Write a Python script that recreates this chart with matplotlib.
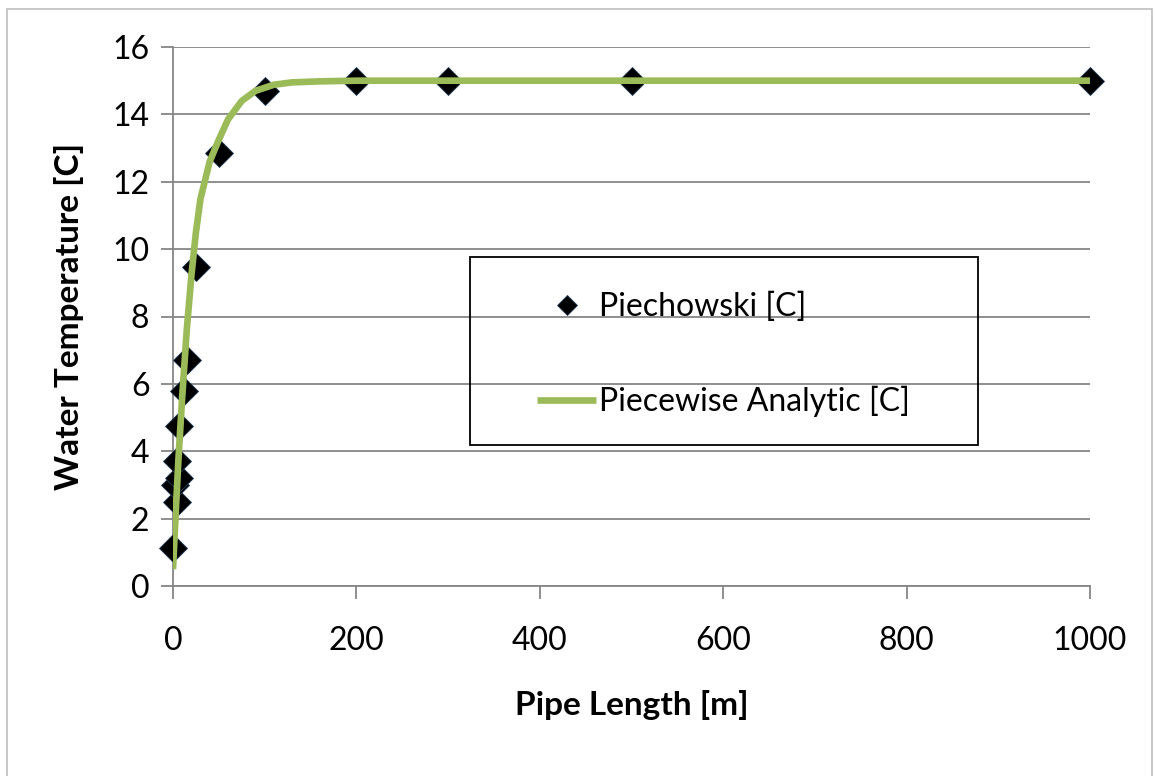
import numpy as np
import matplotlib.pyplot as plt
from matplotlib.patches import Rectangle

plt.rcParams['font.family'] = ['Lato', 'DejaVu Sans']

# Piechowski points
pipe_len = [0, 4, 2.5, 6, 4, 7, 12, 15, 25, 50, 100, 200, 300, 500, 1000]
temp_piech = [1.12, 2.49, 2.99, 3.2, 3.7, 4.76, 5.78, 6.7, 9.46, 12.86, 14.7, 15.0, 15.0, 15.0, 15.0]

# piecewise analytic curve
curve_len = [0, 3, 6, 10, 15, 20, 25, 30, 40, 50, 60, 75, 90, 110, 130, 160, 200, 300, 500, 1000]
curve_temp = [0.5, 2.2, 3.8, 5.6, 7.6, 9.2, 10.5, 11.5, 12.6, 13.25, 13.85, 14.4, 14.7, 14.88,
              14.95, 14.98, 15.0, 15.0, 15.0, 15.0]

W, H = 1156, 776
fig = plt.figure(figsize=(W/100, H/100), dpi=100)
ax = fig.add_axes([173/W, 1 - 586/H, (1090-173)/W, (586-47)/H])

ax.plot(pipe_len, temp_piech, 'D', color='black', markersize=14, markeredgecolor='#1f3b5a',
        markeredgewidth=0.6, label='Piechowski [C]', zorder=3, clip_on=False)
ax.plot(curve_len, curve_temp, '-', color='#9BBB59', lw=4.8, label='Piecewise Analytic [C]',
        zorder=4, solid_capstyle='butt')

ax.set_xlim(0, 1000)
ax.set_ylim(0, 16)
ax.set_xticks(np.arange(0, 1001, 200))
ax.set_yticks(np.arange(0, 17, 2))
ax.yaxis.grid(True, color='#868686', lw=1.3)
ax.set_axisbelow(True)
for s in ['top', 'right']:
    ax.spines[s].set_visible(False)
for s in ['left', 'bottom']:
    ax.spines[s].set_color('#868686')
    ax.spines[s].set_linewidth(1.3)
ax.tick_params(axis='both', colors='#868686', length=9, width=1.3, labelsize=23, labelcolor='black')
ax.tick_params(axis='x', pad=20)
ax.tick_params(axis='y', pad=8)

ax.set_xlabel('Pipe Length [m]', fontsize=24, fontweight='bold', labelpad=24)
ax.set_ylabel('Water Temperature [C]', fontsize=24, fontweight='bold', labelpad=20)

# legend box drawn separately so it can be as wide as the original
fig.patches.append(Rectangle((470/W, 1 - 445/H), (978-470)/W, (445-257)/H,
                             transform=fig.transFigure, fill=False, edgecolor='black',
                             lw=1.3, zorder=5))
leg = fig.legend(loc='upper left', bbox_to_anchor=(537/W, 1 - 292/H), fontsize=23,
                 frameon=False, borderpad=0, labelspacing=2.0, handlelength=1.85,
                 handletextpad=0.08, borderaxespad=0, markerscale=0.75)

fig.patches.append(Rectangle((7/W, -0.01), (1152-7)/W, 1 - 9/H + 0.01,
                             transform=fig.transFigure, fill=False, edgecolor='#bfbfbf', lw=1.2))

fig.savefig('out.png', dpi=100)
